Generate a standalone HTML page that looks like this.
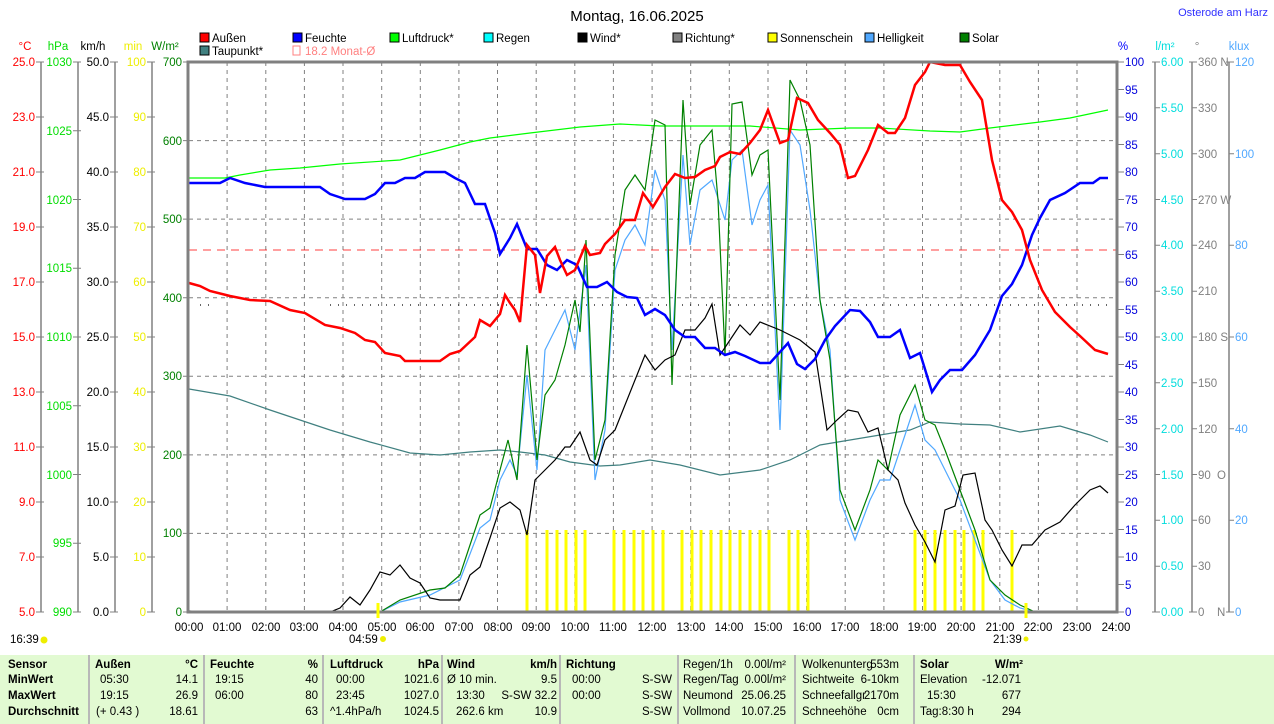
<!DOCTYPE html>
<html><head><meta charset="utf-8"><style>
html,body{margin:0;padding:0;background:#fff;width:1274px;height:724px;overflow:hidden}
svg{display:block;font-family:"Liberation Sans",sans-serif;font-size:11.5px}
.tb{position:absolute;left:0;top:655px;width:1274px;height:69px;background:#e2fad2;font-family:"Liberation Sans",sans-serif;font-size:11.5px}
.tb div{position:absolute;white-space:nowrap}
.b{font-weight:bold}
.sep{position:absolute;top:0;width:2px;height:69px;background:#b8b8b8}
</style></head><body>
<svg width="1274" height="655" viewBox="0 0 1274 655">
<text x="637" y="21" text-anchor="middle" font-size="15">Montag, 16.06.2025</text>
<text x="1268" y="16" text-anchor="end" fill="#3030ff" font-size="11">Osterode am Harz</text>
<g font-size="11.5">
<rect x="200" y="33" width="9" height="9" fill="#f00" stroke="#000"/><text x="212" y="42">Außen</text>
<rect x="293" y="33" width="9" height="9" fill="#00f" stroke="#000"/><text x="305" y="42">Feuchte</text>
<rect x="390" y="33" width="9" height="9" fill="#0f0" stroke="#000"/><text x="402" y="42">Luftdruck*</text>
<rect x="484" y="33" width="9" height="9" fill="#0ff" stroke="#000"/><text x="496" y="42">Regen</text>
<rect x="578" y="33" width="9" height="9" fill="#000" stroke="#000"/><text x="590" y="42">Wind*</text>
<rect x="673" y="33" width="9" height="9" fill="#808080" stroke="#000"/><text x="685" y="42">Richtung*</text>
<rect x="768" y="33" width="9" height="9" fill="#ff0" stroke="#000"/><text x="780" y="42">Sonnenschein</text>
<rect x="865" y="33" width="9" height="9" fill="#50a8ff" stroke="#000"/><text x="877" y="42">Helligkeit</text>
<rect x="960" y="33" width="9" height="9" fill="#008000" stroke="#000"/><text x="972" y="42">Solar</text>
<rect x="200" y="46" width="9" height="9" fill="#408080" stroke="#000"/><text x="212" y="55">Taupunkt*</text>
<rect x="293" y="46" width="7" height="9" fill="none" stroke="#ff8080"/><text x="305" y="55" fill="#ff8080">18.2 Monat-Ø</text>
</g>
<text x="25" y="50" fill="#f00" text-anchor="middle">°C</text>
<text x="58" y="50" fill="#0d0" text-anchor="middle">hPa</text>
<text x="93" y="50" text-anchor="middle">km/h</text>
<text x="133" y="50" fill="#ee0" text-anchor="middle">min</text>
<text x="165" y="50" fill="#008000" text-anchor="middle">W/m²</text>
<text x="1123" y="50" fill="#00f" text-anchor="middle">%</text>
<text x="1165" y="50" fill="#0dd" text-anchor="middle">l/m²</text>
<text x="1197" y="50" fill="#808080" text-anchor="middle">°</text>
<text x="1239" y="50" fill="#50a8ff" text-anchor="middle">klux</text>
<g stroke="#808080" stroke-dasharray="4,4" stroke-width="1">
<line x1="189" x2="1116" y1="140.6" y2="140.6"/><line x1="189" x2="1116" y1="219.1" y2="219.1"/><line x1="189" x2="1116" y1="297.7" y2="297.7"/><line x1="189" x2="1116" y1="376.3" y2="376.3"/><line x1="189" x2="1116" y1="454.9" y2="454.9"/><line x1="189" x2="1116" y1="533.4" y2="533.4"/>
<line x1="227.1" x2="227.1" y1="62" y2="612"/><line x1="265.8" x2="265.8" y1="62" y2="612"/><line x1="304.4" x2="304.4" y1="62" y2="612"/><line x1="343" x2="343" y1="62" y2="612"/><line x1="381.7" x2="381.7" y1="62" y2="612"/><line x1="420.3" x2="420.3" y1="62" y2="612"/><line x1="458.9" x2="458.9" y1="62" y2="612"/><line x1="497.5" x2="497.5" y1="62" y2="612"/><line x1="536.2" x2="536.2" y1="62" y2="612"/><line x1="574.8" x2="574.8" y1="62" y2="612"/><line x1="613.4" x2="613.4" y1="62" y2="612"/><line x1="652.1" x2="652.1" y1="62" y2="612"/><line x1="690.7" x2="690.7" y1="62" y2="612"/><line x1="729.3" x2="729.3" y1="62" y2="612"/><line x1="768" x2="768" y1="62" y2="612"/><line x1="806.6" x2="806.6" y1="62" y2="612"/><line x1="845.2" x2="845.2" y1="62" y2="612"/><line x1="883.9" x2="883.9" y1="62" y2="612"/><line x1="922.5" x2="922.5" y1="62" y2="612"/><line x1="961.1" x2="961.1" y1="62" y2="612"/><line x1="999.8" x2="999.8" y1="62" y2="612"/><line x1="1038.4" x2="1038.4" y1="62" y2="612"/><line x1="1077" x2="1077" y1="62" y2="612"/>
</g>
<line x1="189" x2="1116" y1="250" y2="250" stroke="#f00" stroke-dasharray="8,6" stroke-width="0.8"/>
<line x1="330" x2="1112" y1="305" y2="305" stroke="#333" stroke-dasharray="1,7" stroke-width="1.5"/>
<line x1="200" x2="210" y1="305" y2="305" stroke="#333" stroke-dasharray="1,7" stroke-width="1.5"/>
<g stroke="#ff0" stroke-width="3">
<path d="M527 612V530M547 612V530M557 612V530M566 612V530M576 612V530M585 612V530M614 612V530M624 612V530M634 612V530M643 612V530M653 612V530M663 612V530M682 612V530M692 612V530M701 612V530M711 612V530M721 612V530M730 612V530M740 612V530M750 612V530M760 612V530M769 612V530M789 612V530M798 612V530M808 612V530M915 612V530M925 612V530M935 612V530M945 612V530M955 612V530M964 612V530M974 612V530M983 612V530M1012 612V530"/>
</g>
<polyline fill="none" stroke="#00ff00" stroke-width="1.2" points="189,178 225,178 240,175 270,170 300,168 340,164 400,160 440,150 470,142 490,138 530,133 580,127 620,124 660,126 700,126 750,126 800,130 850,128 880,128 930,131 960,132 990,128 1040,122 1070,118 1108,110"/>
<polyline fill="none" stroke="#408080" stroke-width="1.2" points="189,389 230,396 270,410 300,420 330,430 370,442 410,453 440,455 470,452 500,450 520,452 545,455 570,462 600,466 620,465 650,460 680,465 720,475 760,470 790,460 820,445 850,440 880,435 910,430 930,422 960,424 990,425 1020,432 1060,426 1090,435 1108,442"/>
<polyline fill="none" stroke="#50a8ff" stroke-width="1.2" points="189,612 380,612 400,602 430,595 460,580 480,528 490,520 500,480 510,460 517,475 527,375 537,470 545,350 555,330 565,310 575,350 586,265 595,480 605,430 615,270 625,240 635,225 645,245 655,170 665,200 672,350 683,155 690,245 700,190 712,180 725,220 732,160 742,150 752,225 760,200 768,185 780,430 790,130 800,145 810,210 820,300 830,350 840,500 855,540 870,500 880,480 890,480 900,450 915,405 925,440 935,450 945,470 960,500 975,540 990,580 1005,600 1020,608 1035,612"/>
<polyline fill="none" stroke="#008000" stroke-width="1.2" points="189,612 380,612 400,600 430,590 445,588 460,575 470,545 480,515 490,508 500,470 508,440 517,480 527,345 537,460 545,395 555,380 565,345 575,300 580,332 586,240 595,460 605,420 615,255 625,190 635,175 645,190 655,120 665,125 672,385 683,100 690,205 700,145 712,130 718,200 725,355 732,104 742,102 752,175 760,155 768,150 780,400 790,80 800,100 810,145 820,300 830,360 840,490 855,530 870,490 878,460 888,470 900,415 915,385 925,420 935,425 945,450 960,490 975,530 990,580 1005,595 1020,605 1035,612"/>
<polyline fill="none" stroke="#000" stroke-width="1.2" points="189,611 210,612 330,612 340,608 350,597 360,605 370,590 380,572 390,575 400,565 410,578 420,583 430,598 440,600 460,600 470,575 480,567 490,538 500,508 510,502 520,510 527,535 535,480 545,470 555,460 565,447 570,447 580,432 590,460 597,465 605,440 615,430 625,405 635,380 645,355 655,370 665,360 675,355 685,330 695,330 705,318 712,304 720,355 730,340 740,325 750,335 760,322 780,330 800,340 815,352 827,430 837,420 848,410 858,412 868,432 878,428 888,470 898,480 905,503 915,525 925,542 935,562 945,510 955,506 963,475 975,473 985,520 992,530 1002,550 1012,566 1022,545 1032,545 1045,530 1060,522 1075,505 1090,490 1100,486 1108,493"/>
<polyline fill="none" stroke="#0000ff" stroke-width="2.5" points="189,183 220,183 230,178 245,183 265,187 320,187 330,194 345,199 365,199 375,194 385,183 395,183 405,178 415,178 425,172 445,172 455,178 465,183 475,204 485,204 495,233 500,254 510,238 517,224 527,249 537,249 547,265 557,270 567,260 577,265 587,287 597,287 607,282 617,292 627,297 637,298 645,315 655,309 665,315 675,330 685,337 695,337 705,348 715,348 725,355 735,352 745,356 760,363 770,363 780,352 788,343 797,364 805,369 815,359 825,340 835,326 850,310 860,311 870,322 878,337 890,337 900,330 910,358 920,353 932,392 940,380 950,370 962,370 975,355 990,330 1002,296 1012,284 1022,265 1032,235 1040,218 1050,200 1065,193 1080,183 1093,183 1100,178 1108,178"/>
<polyline fill="none" stroke="#ff0000" stroke-width="2.5" points="189,283 200,286 210,291 230,296 250,300 270,301 290,310 305,313 325,325 340,328 355,333 365,340 375,342 385,353 400,356 405,361 440,361 450,354 460,351 475,337 480,320 490,326 500,314 505,295 510,303 515,310 520,322 527,245 535,255 540,293 547,256 555,247 560,260 567,275 575,270 585,246 590,255 600,253 605,244 615,234 625,220 635,220 643,193 653,207 665,187 675,174 685,178 695,177 705,170 715,166 720,157 730,152 740,154 750,143 760,130 768,110 780,143 788,140 797,98 808,103 818,120 830,133 840,145 848,178 855,176 868,150 878,125 888,133 895,133 905,118 915,85 925,72 930,62 945,65 960,65 970,82 982,100 992,160 1002,200 1012,212 1022,230 1030,260 1042,290 1055,312 1070,327 1080,336 1095,350 1108,354"/>
<path d="M188 62H1117V612H188Z" fill="none" stroke="#808080" stroke-width="3"/>
<line x1="378" x2="378" y1="603" y2="618" stroke="#ff0" stroke-width="3"/>
<line x1="1026" x2="1026" y1="603" y2="618" stroke="#ff0" stroke-width="3"/>
<g stroke="#808080" stroke-width="1.5">
<line x1="41" x2="41" y1="62" y2="612"/><line x1="78" x2="78" y1="62" y2="612"/><line x1="115" x2="115" y1="62" y2="612"/><line x1="152" x2="152" y1="62" y2="612"/>
<line x1="1155" x2="1155" y1="62" y2="612"/><line x1="1192" x2="1192" y1="62" y2="612"/><line x1="1229" x2="1229" y1="62" y2="612"/>
</g>
<g stroke="#808080">
<path d="M36 62h8M36 117h8M36 172h8M36 227h8M36 282h8M36 337h8M36 392h8M36 447h8M36 502h8M36 557h8M36 612h8"/>
<path d="M73 62h8M73 130.75h8M73 199.5h8M73 268.25h8M73 337h8M73 405.75h8M73 474.5h8M73 543.25h8M73 612h8"/>
<path d="M110 62h8M110 117h8M110 172h8M110 227h8M110 282h8M110 337h8M110 392h8M110 447h8M110 502h8M110 557h8M110 612h8"/>
<path d="M147 62h8M147 117h8M147 172h8M147 227h8M147 282h8M147 337h8M147 392h8M147 447h8M147 502h8M147 557h8M147 612h8"/>
<path d="M183 62h5M183 140.6h5M183 219.1h5M183 297.7h5M183 376.3h5M183 454.9h5M183 533.4h5M183 612h5"/>
<path d="M1118 62h6M1118 89.5h6M1118 117h6M1118 144.5h6M1118 172h6M1118 199.5h6M1118 227h6M1118 254.5h6M1118 282h6M1118 309.5h6M1118 337h6M1118 364.5h6M1118 392h6M1118 419.5h6M1118 447h6M1118 474.5h6M1118 502h6M1118 529.5h6M1118 557h6M1118 584.5h6M1118 612h6"/>
<path d="M1152 62h8M1155 107.8h5M1155 153.7h5M1155 199.5h5M1155 245.3h5M1155 291.2h5M1155 337h5M1155 382.8h5M1155 428.7h5M1155 474.5h5M1155 520.3h5M1155 566.2h5M1152 612h8"/>
<path d="M1189 62h8M1192 107.8h5M1192 153.7h5M1192 199.5h5M1192 245.3h5M1192 291.2h5M1192 337h5M1192 382.8h5M1192 428.7h5M1192 474.5h5M1192 520.3h5M1192 566.2h5M1189 612h8"/>
<path d="M1226 62h8M1229 153.7h5M1229 245.3h5M1229 337h5M1229 428.7h5M1229 520.3h5M1226 612h8"/>
</g>
<g text-anchor="end" fill="#f00">
<text x="35" y="66">25.0</text><text x="35" y="121">23.0</text><text x="35" y="176">21.0</text><text x="35" y="231">19.0</text><text x="35" y="286">17.0</text><text x="35" y="341">15.0</text><text x="35" y="396">13.0</text><text x="35" y="451">11.0</text><text x="35" y="506">9.0</text><text x="35" y="561">7.0</text><text x="35" y="616">5.0</text>
</g>
<g text-anchor="end" fill="#00dd00">
<text x="72" y="66">1030</text><text x="72" y="135">1025</text><text x="72" y="204">1020</text><text x="72" y="272">1015</text><text x="72" y="341">1010</text><text x="72" y="410">1005</text><text x="72" y="479">1000</text><text x="72" y="547">995</text><text x="72" y="616">990</text>
</g>
<g text-anchor="end" fill="#000">
<text x="109" y="66">50.0</text><text x="109" y="121">45.0</text><text x="109" y="176">40.0</text><text x="109" y="231">35.0</text><text x="109" y="286">30.0</text><text x="109" y="341">25.0</text><text x="109" y="396">20.0</text><text x="109" y="451">15.0</text><text x="109" y="506">10.0</text><text x="109" y="561">5.0</text><text x="109" y="616">0.0</text>
</g>
<g text-anchor="end" fill="#eeee00">
<text x="146" y="66">100</text><text x="146" y="121">90</text><text x="146" y="176">80</text><text x="146" y="231">70</text><text x="146" y="286">60</text><text x="146" y="341">50</text><text x="146" y="396">40</text><text x="146" y="451">30</text><text x="146" y="506">20</text><text x="146" y="561">10</text><text x="146" y="616">0</text>
</g>
<g text-anchor="end" fill="#008000">
<text x="182" y="66">700</text><text x="182" y="145">600</text><text x="182" y="223">500</text><text x="182" y="302">400</text><text x="182" y="380">300</text><text x="182" y="459">200</text><text x="182" y="537">100</text><text x="182" y="616">0</text>
</g>
<g fill="#0000dd">
<text x="1125" y="66">100</text><text x="1125" y="94">95</text><text x="1125" y="121">90</text><text x="1125" y="149">85</text><text x="1125" y="176">80</text><text x="1125" y="204">75</text><text x="1125" y="231">70</text><text x="1125" y="259">65</text><text x="1125" y="286">60</text><text x="1125" y="314">55</text><text x="1125" y="341">50</text><text x="1125" y="369">45</text><text x="1125" y="396">40</text><text x="1125" y="424">35</text><text x="1125" y="451">30</text><text x="1125" y="479">25</text><text x="1125" y="506">20</text><text x="1125" y="534">15</text><text x="1125" y="561">10</text><text x="1125" y="589">5</text><text x="1125" y="616">0</text>
</g>
<g fill="#00dddd">
<text x="1161" y="66">6.00</text><text x="1161" y="112">5.50</text><text x="1161" y="158">5.00</text><text x="1161" y="204">4.50</text><text x="1161" y="249">4.00</text><text x="1161" y="295">3.50</text><text x="1161" y="341">3.00</text><text x="1161" y="387">2.50</text><text x="1161" y="433">2.00</text><text x="1161" y="479">1.50</text><text x="1161" y="524">1.00</text><text x="1161" y="570">0.50</text><text x="1161" y="616">0.00</text>
</g>
<g fill="#808080">
<text x="1198" y="66">360 N</text><text x="1198" y="112">330</text><text x="1198" y="158">300</text><text x="1198" y="204">270 W</text><text x="1198" y="249">240</text><text x="1198" y="295">210</text><text x="1198" y="341">180 S</text><text x="1198" y="387">150</text><text x="1198" y="433">120</text><text x="1198" y="479">90</text><text x="1217" y="479">O</text><text x="1198" y="524">60</text><text x="1198" y="570">30</text><text x="1198" y="616">0</text><text x="1217" y="616">N</text>
</g>
<g fill="#50a8ff">
<text x="1235" y="66">120</text><text x="1235" y="158">100</text><text x="1235" y="249">80</text><text x="1235" y="341">60</text><text x="1235" y="433">40</text><text x="1235" y="524">20</text><text x="1235" y="616">0</text>
</g>
<g text-anchor="middle">
<text x="189" y="631">00:00</text><text x="227" y="631">01:00</text><text x="266" y="631">02:00</text><text x="304" y="631">03:00</text><text x="343" y="631">04:00</text><text x="382" y="631">05:00</text><text x="420" y="631">06:00</text><text x="459" y="631">07:00</text><text x="498" y="631">08:00</text><text x="536" y="631">09:00</text><text x="575" y="631">10:00</text><text x="613" y="631">11:00</text><text x="652" y="631">12:00</text><text x="691" y="631">13:00</text><text x="729" y="631">14:00</text><text x="768" y="631">15:00</text><text x="807" y="631">16:00</text><text x="845" y="631">17:00</text><text x="884" y="631">18:00</text><text x="922" y="631">19:00</text><text x="961" y="631">20:00</text><text x="1000" y="631">21:00</text><text x="1038" y="631">22:00</text><text x="1077" y="631">23:00</text><text x="1116" y="631">24:00</text>
</g>
<text x="10" y="643">16:39</text><circle cx="44" cy="640" r="3.5" fill="#ee0"/>
<text x="349" y="643">04:59</text><circle cx="383" cy="639" r="3" fill="#ee0"/>
<text x="993" y="643">21:39</text><circle cx="1026" cy="639" r="2.5" fill="#ee0"/>
</svg>
<div class="tb">
<div class="sep" style="left:88px"></div><div class="sep" style="left:203px"></div><div class="sep" style="left:322px"></div><div class="sep" style="left:441px"></div><div class="sep" style="left:559px"></div><div class="sep" style="left:677px"></div><div class="sep" style="left:794px"></div><div class="sep" style="left:913px"></div>
<div class="b" style="left:8px;top:4px">Sensor</div><div class="b" style="left:8px;top:19px">MinWert</div><div class="b" style="left:8px;top:35px">MaxWert</div><div class="b" style="left:8px;top:51px">Durchschnitt</div>
<div class="b" style="left:95px;top:4px">Außen</div><div class="b" style="right:1076px;top:4px">°C</div>
<div style="left:100px;top:19px">05:30</div><div style="right:1076px;top:19px">14.1</div>
<div style="left:100px;top:35px">19:15</div><div style="right:1076px;top:35px">26.9</div>
<div style="left:96px;top:51px">(+ 0.43 )</div><div style="right:1076px;top:51px">18.61</div>
<div class="b" style="left:210px;top:4px">Feuchte</div><div class="b" style="right:956px;top:4px">%</div>
<div style="left:215px;top:19px">19:15</div><div style="right:956px;top:19px">40</div>
<div style="left:215px;top:35px">06:00</div><div style="right:956px;top:35px">80</div>
<div style="right:956px;top:51px">63</div>
<div class="b" style="left:330px;top:4px">Luftdruck</div><div class="b" style="right:835px;top:4px">hPa</div>
<div style="left:336px;top:19px">00:00</div><div style="right:835px;top:19px">1021.6</div>
<div style="left:336px;top:35px">23:45</div><div style="right:835px;top:35px">1027.0</div>
<div style="left:330px;top:51px">^1.4hPa/h</div><div style="right:835px;top:51px">1024.5</div>
<div class="b" style="left:447px;top:4px">Wind</div><div class="b" style="right:717px;top:4px">km/h</div>
<div style="left:447px;top:19px">Ø 10 min.</div><div style="right:717px;top:19px">9.5</div>
<div style="left:456px;top:35px">13:30</div><div style="right:717px;top:35px">S-SW 32.2</div>
<div style="left:456px;top:51px">262.6 km</div><div style="right:717px;top:51px">10.9</div>
<div class="b" style="left:566px;top:4px">Richtung</div>
<div style="left:572px;top:19px">00:00</div><div style="left:642px;top:19px">S-SW</div>
<div style="left:572px;top:35px">00:00</div><div style="left:642px;top:35px">S-SW</div>
<div style="left:642px;top:51px">S-SW</div>
<div style="left:683px;top:4px">Regen/1h</div><div style="right:488px;top:4px">0.00l/m²</div>
<div style="left:683px;top:19px">Regen/Tag</div><div style="right:488px;top:19px">0.00l/m²</div>
<div style="left:683px;top:35px">Neumond</div><div style="right:488px;top:35px">25.06.25</div>
<div style="left:683px;top:51px">Vollmond</div><div style="right:488px;top:51px">10.07.25</div>
<div style="left:802px;top:4px">Wolkenunterg</div><div style="right:375px;top:4px">553m</div>
<div style="left:802px;top:19px">Sichtweite</div><div style="right:375px;top:19px">6-10km</div>
<div style="left:802px;top:35px">Schneefallgr</div><div style="right:375px;top:35px">2170m</div>
<div style="left:802px;top:51px">Schneehöhe</div><div style="right:375px;top:51px">0cm</div>
<div class="b" style="left:920px;top:4px">Solar</div><div class="b" style="right:251px;top:4px">W/m²</div>
<div style="left:920px;top:19px">Elevation</div><div style="right:253px;top:19px">-12.071</div>
<div style="left:927px;top:35px">15:30</div><div style="right:253px;top:35px">677</div>
<div style="left:920px;top:51px">Tag:8:30 h</div><div style="right:253px;top:51px">294</div>
</div>
</body></html>
